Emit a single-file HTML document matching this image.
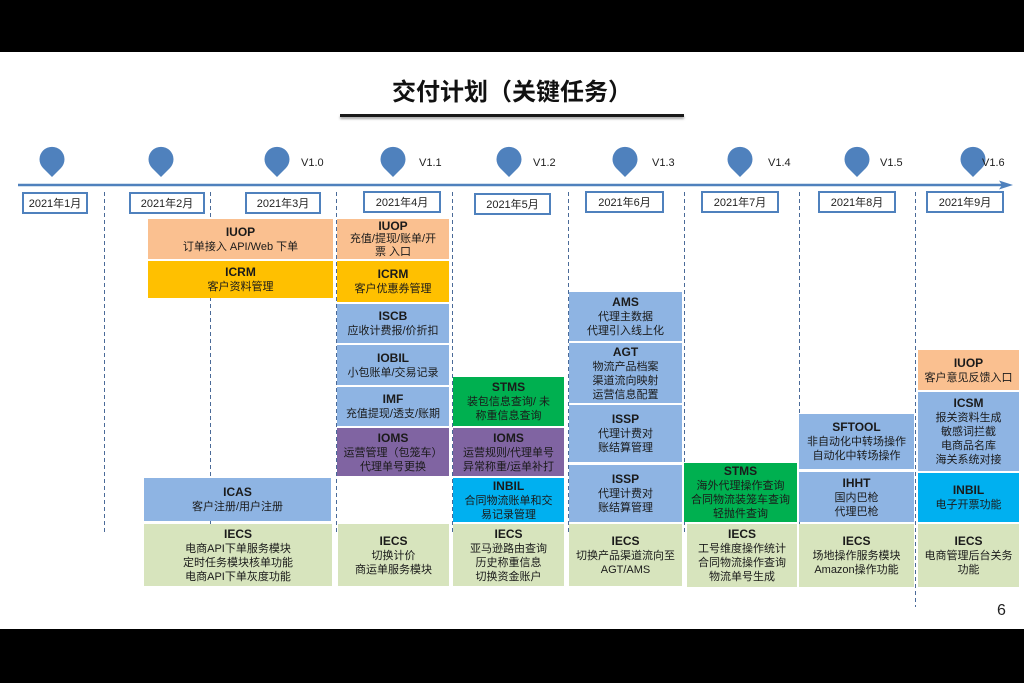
<!DOCTYPE html>
<html><head><meta charset="utf-8">
<style>
*{margin:0;padding:0;box-sizing:border-box}
html,body{width:1024px;height:683px;overflow:hidden;background:#fff}
body{position:relative;font-family:"Liberation Sans","Noto Sans CJK SC",sans-serif;color:#1a1a1a}
.bar{position:absolute;left:0;width:1024px;background:#000}
.b{position:absolute;display:flex;flex-direction:column;justify-content:center;align-items:center;text-align:center;font-size:11px;line-height:14px;white-space:nowrap}
.b b{font-size:12px;line-height:15px;font-weight:bold}
.d{position:absolute;border:2px solid #4f81bd;background:#fff;font-size:11px;display:flex;align-items:center;justify-content:center;color:#222}
.v{position:absolute;font-size:11px;color:#222}
.o{background:#fac090}.y{background:#ffc000}.u{background:#8eb4e3}.p{background:#8064a2}.g{background:#00b050}.c{background:#00b0f0}.l{background:#d7e4bd}
</style></head><body>
<div class="bar" style="top:0;height:52px"></div>
<div class="bar" style="top:629px;height:54px"></div>

<div style="position:absolute;left:340px;top:76px;width:344px;text-align:center;font-size:24px;font-weight:bold;line-height:34px;color:#111">交付计划（关键任务）</div>
<div style="position:absolute;left:340px;top:114px;width:344px;height:3px;background:#1a1a1a;box-shadow:0 2px 2px rgba(0,0,0,0.35)"></div>

<svg width="1024" height="683" style="position:absolute;left:0;top:0">
 <g stroke="#4a6a98" stroke-width="1" stroke-dasharray="4,3" fill="none">
  <line x1="104.5" y1="192" x2="104.5" y2="532"/>
  <line x1="210.5" y1="192" x2="210.5" y2="528"/>
  <line x1="336.5" y1="192" x2="336.5" y2="532"/>
  <line x1="452.5" y1="192" x2="452.5" y2="532"/>
  <line x1="568.5" y1="192" x2="568.5" y2="532"/>
  <line x1="684.5" y1="192" x2="684.5" y2="532"/>
  <line x1="799.5" y1="192" x2="799.5" y2="532"/>
  <line x1="915.5" y1="192" x2="915.5" y2="607"/>
 </g>
 <line x1="18" y1="185" x2="1004" y2="185" stroke="#4f81bd" stroke-width="2.5"/>
 <polygon points="999,180.5 1013,185 999,189.5 1002,185" fill="#4f81bd"/>
 <g fill="#4f81bd">
  <path d="M52,177 L43,168 A12.5,12.5 0 1 1 61,168 Z"/>
  <path d="M161,177 L152,168 A12.5,12.5 0 1 1 170,168 Z"/>
  <path d="M277,177 L268,168 A12.5,12.5 0 1 1 286,168 Z"/>
  <path d="M393,177 L384,168 A12.5,12.5 0 1 1 402,168 Z"/>
  <path d="M509,177 L500,168 A12.5,12.5 0 1 1 518,168 Z"/>
  <path d="M625,177 L616,168 A12.5,12.5 0 1 1 634,168 Z"/>
  <path d="M740,177 L731,168 A12.5,12.5 0 1 1 749,168 Z"/>
  <path d="M857,177 L848,168 A12.5,12.5 0 1 1 866,168 Z"/>
  <path d="M973,177 L964,168 A12.5,12.5 0 1 1 982,168 Z"/>
 </g>
</svg>

<div class="v" style="left:301px;top:157px">V1.0</div>
<div class="v" style="left:419px;top:157px">V1.1</div>
<div class="v" style="left:533px;top:157px">V1.2</div>
<div class="v" style="left:652px;top:157px">V1.3</div>
<div class="v" style="left:768px;top:157px">V1.4</div>
<div class="v" style="left:880px;top:157px">V1.5</div>
<div class="v" style="left:982px;top:157px">V1.6</div>

<div class="d" style="left:22px;top:192px;width:66px;height:22px">2021年1月</div>
<div class="d" style="left:129px;top:192px;width:76px;height:22px">2021年2月</div>
<div class="d" style="left:245px;top:192px;width:76px;height:22px">2021年3月</div>
<div class="d" style="left:363px;top:191px;width:78px;height:22px">2021年4月</div>
<div class="d" style="left:474px;top:193px;width:77px;height:22px">2021年5月</div>
<div class="d" style="left:585px;top:191px;width:79px;height:22px">2021年6月</div>
<div class="d" style="left:701px;top:191px;width:78px;height:22px">2021年7月</div>
<div class="d" style="left:818px;top:191px;width:78px;height:22px">2021年8月</div>
<div class="d" style="left:926px;top:191px;width:78px;height:22px">2021年9月</div>

<!-- col 2-3 -->
<div class="b o" style="left:148px;top:219px;width:185px;height:40px"><b>IUOP</b>订单接入 API/Web 下单</div>
<div class="b y" style="left:148px;top:261px;width:185px;height:37px"><b>ICRM</b>客户资料管理</div>
<div class="b u" style="left:144px;top:478px;width:187px;height:43px"><b>ICAS</b>客户注册/用户注册</div>
<div class="b l" style="left:144px;top:524px;width:188px;height:62px"><b>IECS</b>电商API下单服务模块<br>定时任务模块核单功能<br>电商API下单灰度功能</div>

<!-- col 4 -->
<div class="b o" style="left:337px;top:219px;width:112px;height:40px;line-height:13px"><b style="line-height:14px">IUOP</b>充值/提现/账单/开<br>票 入口</div>
<div class="b y" style="left:337px;top:261px;width:112px;height:41px"><b>ICRM</b>客户优惠券管理</div>
<div class="b u" style="left:337px;top:304px;width:112px;height:39px"><b>ISCB</b>应收计费报/价折扣</div>
<div class="b u" style="left:337px;top:345px;width:112px;height:40px"><b>IOBIL</b>小包账单/交易记录</div>
<div class="b u" style="left:337px;top:387px;width:112px;height:39px"><b>IMF</b>充值提现/透支/账期</div>
<div class="b p" style="left:337px;top:428px;width:112px;height:48px"><b>IOMS</b>运营管理（包笼车）<br>代理单号更换</div>
<div class="b l" style="left:338px;top:524px;width:111px;height:62px"><b>IECS</b>切换计价<br>商运单服务模块</div>

<!-- col 5 -->
<div class="b g" style="left:453px;top:377px;width:111px;height:49px"><b>STMS</b>装包信息查询/ 未<br>称重信息查询</div>
<div class="b p" style="left:453px;top:428px;width:111px;height:48px"><b>IOMS</b>运营规则/代理单号<br>异常称重/运单补打</div>
<div class="b c" style="left:453px;top:478px;width:111px;height:44px"><b>INBIL</b>合同物流账单和交<br>易记录管理</div>
<div class="b l" style="left:453px;top:524px;width:111px;height:62px"><b>IECS</b>亚马逊路由查询<br>历史称重信息<br>切换资金账户</div>

<!-- col 6 -->
<div class="b u" style="left:569px;top:292px;width:113px;height:49px"><b>AMS</b>代理主数据<br>代理引入线上化</div>
<div class="b u" style="left:569px;top:343px;width:113px;height:60px"><b>AGT</b>物流产品档案<br>渠道流向映射<br>运营信息配置</div>
<div class="b u" style="left:569px;top:405px;width:113px;height:57px"><b>ISSP</b>代理计费对<br>账结算管理</div>
<div class="b u" style="left:569px;top:465px;width:113px;height:57px"><b>ISSP</b>代理计费对<br>账结算管理</div>
<div class="b l" style="left:569px;top:524px;width:113px;height:62px"><b>IECS</b>切换产品渠道流向至<br>AGT/AMS</div>

<!-- col 7 -->
<div class="b g" style="left:684px;top:463px;width:113px;height:59px"><b>STMS</b>海外代理操作查询<br>合同物流装笼车查询<br>轻抛件查询</div>
<div class="b l" style="left:687px;top:524px;width:110px;height:63px"><b>IECS</b>工号维度操作统计<br>合同物流操作查询<br>物流单号生成</div>

<!-- col 8 -->
<div class="b u" style="left:799px;top:414px;width:115px;height:55px"><b>SFTOOL</b>非自动化中转场操作<br>自动化中转场操作</div>
<div class="b u" style="left:799px;top:472px;width:115px;height:50px"><b>IHHT</b>国内巴枪<br>代理巴枪</div>
<div class="b l" style="left:799px;top:524px;width:115px;height:63px"><b>IECS</b>场地操作服务模块<br>Amazon操作功能</div>

<!-- col 9 -->
<div class="b o" style="left:918px;top:350px;width:101px;height:40px"><b>IUOP</b>客户意见反馈入口</div>
<div class="b u" style="left:918px;top:392px;width:101px;height:79px"><b>ICSM</b>报关资料生成<br>敏感词拦截<br>电商品名库<br>海关系统对接</div>
<div class="b c" style="left:918px;top:473px;width:101px;height:49px"><b>INBIL</b>电子开票功能</div>
<div class="b l" style="left:918px;top:524px;width:101px;height:63px"><b>IECS</b>电商管理后台关务<br>功能</div>

<div style="position:absolute;left:997px;top:602px;font-size:16px;color:#222">6</div>
</body></html>
